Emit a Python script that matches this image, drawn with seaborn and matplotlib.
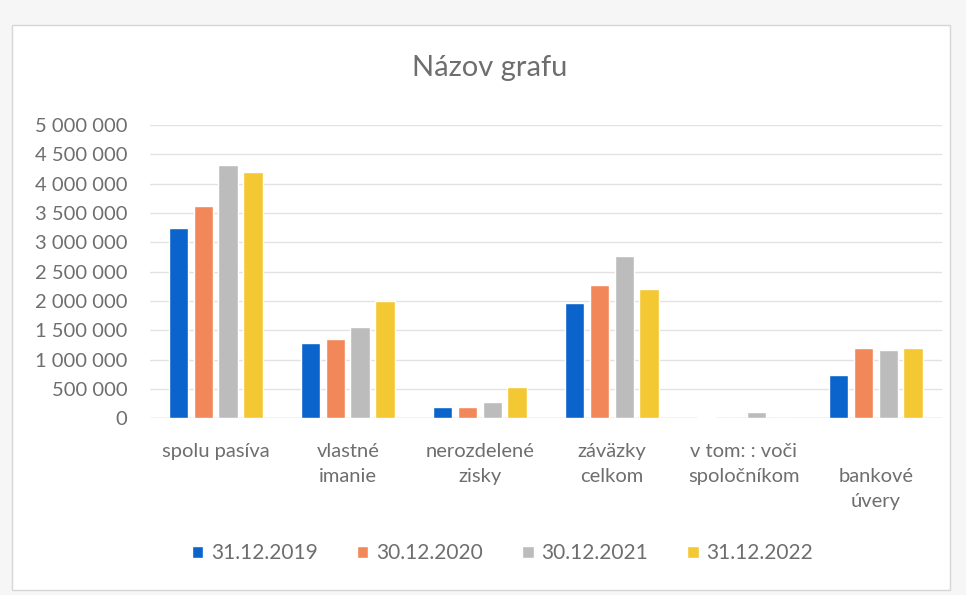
import pandas as pd
import seaborn as sns
import matplotlib.pyplot as plt
from matplotlib.patches import Rectangle
from matplotlib.ticker import FuncFormatter, MultipleLocator

categories = ["spolu pasíva", "vlastné\nimanie", "nerozdelené\nzisky", "záväzky\ncelkom",
              "v tom: : voči\nspoločníkom", "\nbankové\núvery"]
dates = ["31.12.2019", "30.12.2020", "30.12.2021", "31.12.2022"]

v_2019 = [3250000, 1280000, 200000, 1970000, 30000, 730000]
v_2020 = [3620000, 1350000, 190000, 2270000, 0, 1190000]
v_2021 = [4320000, 1550000, 270000, 2770000, 110000, 1160000]
v_2022 = [4200000, 2000000, 530000, 2200000, 0, 1190000]

colors = ["#0a64cc", "#f2875a", "#bcbcbc", "#f4c833"]

df = pd.DataFrame({"Kategória": categories, dates[0]: v_2019, dates[1]: v_2020,
                   dates[2]: v_2021, dates[3]: v_2022})
df_long = pd.melt(df, id_vars="Kategória", var_name="Dátum", value_name="Hodnota")

sns.set_style("white")
plt.rcParams["font.family"] = ["Lato", "DejaVu Sans"]
text_color = "#6e6e6e"

fig = plt.figure(figsize=(9.66, 5.95), dpi=100, facecolor="#f6f6f6")
fig.patches.append(Rectangle((12 / 966, 5 / 595), 938 / 966, 565 / 595, transform=fig.transFigure,
                             facecolor="white", edgecolor="#d6d6d6", linewidth=1, zorder=-1))
ax = fig.add_axes([0.155, 0.297, 0.82, 0.493])
ax.set_zorder(1)
ax.set_facecolor("none")

sns.barplot(data=df_long, x="Kategória", y="Hodnota", hue="Dátum", palette=colors,
            width=0.75, gap=0.22, ax=ax, saturation=1)

ax.set_ylim(0, 5000000)
ax.set_xlim(-0.5, 5.5)
ax.yaxis.set_major_locator(MultipleLocator(500000))
ax.yaxis.set_major_formatter(FuncFormatter(lambda v, p: f"{v:,.0f}".replace(",", " ")))
ax.grid(axis="y", color="#e2e2e2", linewidth=1)
ax.set_axisbelow(True)
for s in ax.spines.values():
    s.set_visible(False)
ax.axhline(0, color="#d4d4d4", linewidth=1, zorder=0.5)
ax.tick_params(axis="y", length=0, labelsize=14.5, labelcolor=text_color, pad=16)
ax.tick_params(axis="x", length=0, labelsize=14.5, labelcolor=text_color, pad=18)
for lbl in ax.get_xticklabels():
    lbl.set_linespacing(1.55)
ax.set_xlabel("")
ax.set_ylabel("")

fig.text(0.507, 0.885, "Názov grafu", ha="center", va="center", fontsize=21, color=text_color)

sns.move_legend(ax, "center", bbox_to_anchor=(0.52, 0.07), bbox_transform=fig.transFigure,
                ncol=4, frameon=False, title=None, fontsize=15, handlelength=0.55,
                handleheight=0.55, columnspacing=1.9, handletextpad=0.35)
for t in ax.get_legend().get_texts():
    t.set_color(text_color)

fig.savefig("out.png", dpi=100, facecolor=fig.get_facecolor())
